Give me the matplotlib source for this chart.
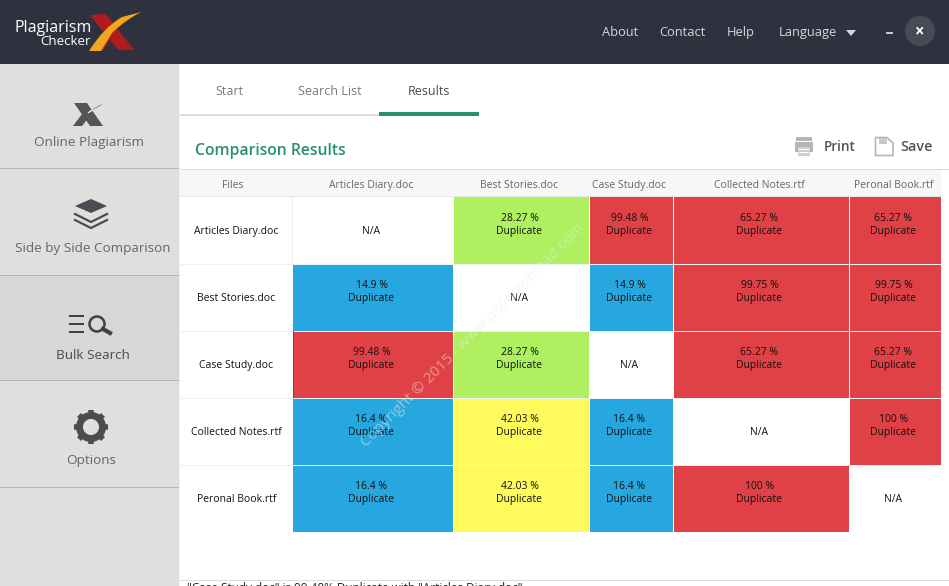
import numpy as np
import matplotlib
matplotlib.use('Agg')
import matplotlib.pyplot as plt
from matplotlib.colors import ListedColormap, BoundaryNorm
from matplotlib.patches import Rectangle, Polygon, Circle, PathPatch
from matplotlib.path import Path

plt.rcParams['font.family'] = ['Open Sans', 'DejaVu Sans']

files = ['Articles Diary.doc', 'Best Stories.doc', 'Case Study.doc',
         'Collected Notes.rtf', 'Peronal Book.rtf']
duplicate_pct = [
    [np.nan, 28.27, 99.48, 65.27, 65.27],
    [14.9, np.nan, 14.9, 99.75, 99.75],
    [99.48, 28.27, np.nan, 65.27, 65.27],
    [16.4, 42.03, 16.4, np.nan, 100],
    [16.4, 42.03, 16.4, 100, np.nan],
]
band_limits = [0, 20, 30, 50, 101]
band_colors = ['#27A7DF', '#AEF05F', '#FFFB5C', '#E04146']
tabs = ['Start', 'Search List', 'Results']
menu = ['About', 'Contact', 'Help', 'Language']
side_items = ['Online Plagiarism', 'Side by Side Comparison', 'Bulk Search', 'Options']

# layout in pixels
col_edges = np.array([293, 453, 589, 673, 849, 941])
row_edges = np.array([197, 264, 331, 398, 465, 532])
INK = '#4A4A4A'
GREY = '#666666'
ICON = '#4B4C52'

fig = plt.figure(figsize=(9.49, 5.86), dpi=100)
ax = fig.add_axes([0, 0, 1, 1])
ax.set_xlim(0, 949)
ax.set_ylim(586, 0)
ax.axis('off')


def box(x0, y0, x1, y1, color, z=1, **kw):
    ax.add_patch(Rectangle((x0, y0), x1 - x0, y1 - y0, facecolor=color, edgecolor='none', zorder=z, **kw))


# top bar and sidebar
box(0, 0, 949, 64, '#2F323E')
box(0, 64, 179, 586, '#E0DFDE')
box(0, 275, 179, 380, '#D8D7D6')
for y in [168, 275, 380, 487]:
    box(0, y, 179, y + 1, '#B4B4B4', z=2)
box(179, 64, 180, 586, '#F0F0F0', z=2)

# logo
ax.add_patch(Polygon([(90, 15), (106, 14), (134, 50), (118, 50)], facecolor='#B01C1E', zorder=3))
ax.add_patch(Polygon([(92, 50), (104, 34), (110, 39), (104, 50)], facecolor='#B01C1E', zorder=3))
verts = [(89, 51), (104, 27), (122, 17), (141, 12), (124, 21), (112, 33), (101, 51), (89, 51)]
codes = [Path.MOVETO, Path.CURVE3, Path.CURVE3, Path.LINETO, Path.CURVE3, Path.CURVE3, Path.LINETO, Path.CLOSEPOLY]
ax.add_patch(PathPatch(Path(verts, codes), facecolor='#F2A61D', edgecolor='none', zorder=4))
ax.text(15, 32, 'Plagiarism', color='white', fontsize=11.5, fontweight='medium', va='baseline', ha='left', zorder=5)
ax.text(91, 45, 'Checker', color='white', fontsize=9.5, fontweight='medium', va='baseline', ha='right', zorder=5)

# top menu
for label, x in zip(menu, [620.5, 682, 741, 807.5]):
    ax.text(x, 36, label, color='#D5D6DA', fontsize=9.3, ha='center', va='baseline')
ax.add_patch(Polygon([(846, 30), (856, 30), (851, 36)], facecolor='#D5D6DA'))
box(886, 32, 893, 34, '#C8C9CE')
ax.add_patch(Circle((920, 31), 15, facecolor='#484B56', edgecolor='none'))
ax.text(919.5, 31, '×', color='white', fontsize=12, fontweight='bold', ha='center', va='center')

# sidebar icons
ax.add_patch(Polygon([(74, 103), (87, 103), (103, 126), (90, 126)], facecolor='#55565A', zorder=3))
ax.add_patch(Polygon([(73, 126), (82, 126), (90, 116), (85, 110)], facecolor='#55565A', zorder=3))
ax.add_patch(PathPatch(Path([(88, 113), (96, 105), (107, 102), (97, 108), (88, 113)],
                            [Path.MOVETO, Path.CURVE3, Path.CURVE3, Path.CURVE3, Path.CURVE3]),
                       facecolor='#55565A', edgecolor='#E0DFDE', lw=0.6, zorder=4))

ax.add_patch(Polygon([(75, 206), (91, 199), (107, 206), (91, 213)], facecolor=ICON, zorder=3))
for dy in [0, 6]:
    ax.plot([75, 91, 107], [214 + dy, 222 + dy, 214 + dy], color=ICON, lw=1.6, zorder=3)

for y in [316, 324, 332]:
    box(69, y - 1.5, 84, y + 1, '#3F4045', z=3)
ax.add_patch(Circle((97, 324), 7.5, facecolor='none', edgecolor='#3F4045', lw=1.8, zorder=3))
ax.plot([103, 110], [329, 333], color='#3F4045', lw=3, zorder=3)

ax.add_patch(Circle((91, 427), 11.5, facecolor='none', edgecolor=ICON, lw=5, zorder=3))
for a in np.radians(np.arange(0, 360, 45)):
    ax.plot([91 + 13 * np.cos(a), 91 + 17 * np.cos(a)], [427 + 13 * np.sin(a), 427 + 17 * np.sin(a)],
            color=ICON, lw=4, solid_capstyle='butt', zorder=3)

for label, x, y, col in zip(side_items, [89.5, 92.5, 93, 91], [146, 252, 359, 464], [GREY, GREY, INK, GREY]):
    ax.text(x, y, label, color=col, fontsize=9.7, ha='center', va='baseline', zorder=4)

# tabs
box(180, 114, 379, 116, '#DCDCDC')
box(379, 112, 479, 116, '#27906C')
for label, x, col in zip(tabs, [229.5, 329.5, 428.5], ['#7A7A7A', '#7A7A7A', INK]):
    ax.text(x, 95, label, color=col, fontsize=9, ha='center', va='baseline')

ax.text(195, 155, 'Comparison Results', color='#2B8F6E', fontsize=11.3, fontweight='semibold', ha='left', va='baseline')

# print / save
box(796, 137, 812, 141, '#B5B5B5')
box(795, 142, 813, 152, '#B5B5B5')
box(798, 147, 810, 156, '#CFCFCF')
box(799, 149, 809, 150, 'white', z=2)
box(799, 152, 809, 153, 'white', z=2)
ax.text(824, 151, 'Print', color='#555555', fontsize=9.8, fontweight='semibold', ha='left', va='baseline')
ax.add_patch(Polygon([(875.5, 137.5), (887, 137.5), (893, 143), (893, 155.5), (875.5, 155.5)],
                     facecolor='none', edgecolor='#B5B5B5', lw=1.2))
box(879, 138, 887, 144, '#C8C8C8')
ax.text(900, 151, 'Save', color='#555555', fontsize=10.4, fontweight='semibold', ha='left', va='baseline')

# table header
box(180, 170, 941, 196, '#F7F7F7')
box(180, 169, 949, 170, '#DDDDDD', z=2)
box(180, 196, 941, 197, '#E8E8E8', z=2)
ax.text(233, 188, 'Files', color=GREY, fontsize=7.5, ha='center', va='baseline', zorder=4)
for i, name in enumerate(files):
    ax.text((col_edges[i] + col_edges[i + 1]) / 2 - 1.5, 188, name, color=GREY, fontsize=7.5,
            ha='center', va='baseline', zorder=4)

# result cells
values = np.ma.masked_invalid(np.array(duplicate_pct))
cmap = ListedColormap(band_colors)
cmap.set_bad('white')
ax.pcolormesh(col_edges, row_edges, values, cmap=cmap, norm=BoundaryNorm(band_limits, cmap.N),
              edgecolors='none', linewidth=0, zorder=3)
ax.set_xlim(0, 949)
ax.set_ylim(586, 0)
for x in col_edges[1:-1]:
    box(x, row_edges[0], x + 1, row_edges[-1], 'white', z=4)
for y in row_edges[1:-1]:
    box(180, y, 941, y + 1, '#F1F1F1', z=4)
box(292, row_edges[0], 293, row_edges[1], '#EDEDED', z=4)
box(293, row_edges[2], 294, row_edges[3], '#8A3A50', z=4)

for r, name in enumerate(files):
    base = row_edges[r] + 37
    ax.text(236.5, base, name, color='#111111', fontsize=7.5, ha='center', va='baseline', zorder=6)
    for c in range(len(files)):
        xc = (col_edges[c] + col_edges[c + 1]) / 2 - 1.5
        v = duplicate_pct[r][c]
        if np.isnan(v):
            ax.text(xc, base, 'N/A', color='#111111', fontsize=7.5, ha='center', va='baseline', zorder=6)
        else:
            ax.text(xc, base - 13, '%g %%' % v, color='#111111', fontsize=7.5, ha='center', va='baseline', zorder=6)
            ax.text(xc, base, 'Duplicate', color='#111111', fontsize=7.5, ha='center', va='baseline', zorder=6)

# watermark
ax.text(473, 335, 'Copyright © 2015 - www.p30download.com', color='white', alpha=0.45, fontsize=11,
        rotation=45, rotation_mode='anchor', ha='center', va='center', zorder=7)
ax.text(473, 335, 'Copyright © 2015 - www.p30download.com', color='#999999', alpha=0.10, fontsize=11,
        rotation=45, rotation_mode='anchor', ha='center', va='center', zorder=7)

# footer, cut off by the window edge
box(180, 580, 949, 581, '#DDDDDD', z=2)
ax.text(187, 588.5, '"Case Study.doc" is 99.48% Duplicate with "Articles Diary.doc"', color='#222222',
        fontsize=8.5, ha='left', va='center', clip_on=True)

fig.savefig('out.png', dpi=100)
